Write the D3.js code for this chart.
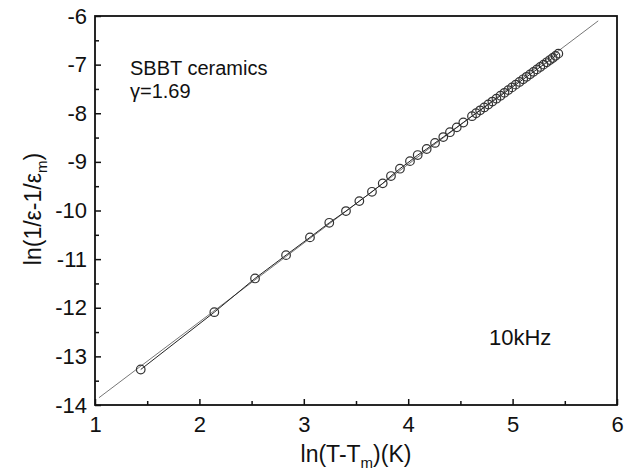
<!DOCTYPE html>
<html><head><meta charset="utf-8">
<script src="https://cdn.jsdelivr.net/npm/d3@7"></script>
<style>body{margin:0;background:#fff}svg{display:block}text{font-family:"Liberation Sans",Arial,sans-serif;fill:#111}</style>
</head><body><svg id="c" width="634" height="472"></svg>
<script>
const dataX = [1.438,2.143,2.533,2.830,3.059,3.244,3.404,3.532,3.653,3.756,3.835,3.921,4.017,4.091,4.177,4.257,4.336,4.400,4.465,4.528,
4.611,4.650,4.689,4.728,4.767,4.806,4.845,4.884,4.922,4.958,4.994,5.030,5.066,5.101,5.134,5.167,5.200,5.233,5.265,5.296,5.327,5.357,5.384,5.411,5.438];
const dataY = [-13.270,-12.091,-11.397,-10.918,-10.553,-10.253,-10.012,-9.807,-9.615,-9.442,-9.292,-9.140,-8.985,-8.860,-8.735,-8.610,-8.490,-8.390,-8.290,-8.190,
-8.060,-8.000,-7.940,-7.880,-7.820,-7.760,-7.700,-7.640,-7.580,-7.524,-7.468,-7.412,-7.356,-7.302,-7.251,-7.200,-7.149,-7.098,-7.048,-7.000,-6.952,-6.906,-6.864,-6.820,-6.774];
const fitX = [1.038, 5.82];
const fitY = [-13.85, -6.10];
const xTicks = [1,2,3,4,5,6];
const yTicks = [-14,-13,-12,-11,-10,-9,-8,-7,-6];

const svg = d3.select("#c");
const L=95, T=16, R=617, B=405;
const x = d3.scaleLinear().domain([1,6]).range([L,R]);
const y = d3.scaleLinear().domain([-14,-6]).range([B,T]);

svg.append("path").datum(fitX.map((v,i)=>[v,fitY[i]]))
  .attr("d", d3.line().x(d=>x(d[0])).y(d=>y(d[1])))
  .attr("stroke","#777").attr("stroke-width",1).attr("fill","none");
const pts = dataX.map((v,i)=>[v,dataY[i]]);
svg.append("path").datum(pts)
  .attr("d", d3.line().x(d=>x(d[0])).y(d=>y(d[1])))
  .attr("stroke","#222").attr("stroke-width",1).attr("fill","none");
svg.append("g").selectAll("circle").data(pts).join("circle")
  .attr("cx",d=>x(d[0])).attr("cy",d=>y(d[1])).attr("r",4.3)
  .attr("fill","none").attr("stroke","#333").attr("stroke-width",1.2);

const xa = svg.append("g").attr("transform",`translate(0,${B})`)
  .call(d3.axisBottom(x).tickValues(xTicks).tickFormat(d3.format("d")).tickSizeInner(-6).tickSizeOuter(0).tickPadding(11));
const xm = svg.append("g").attr("transform",`translate(0,${B})`)
  .call(d3.axisBottom(x).tickValues([1.5,2.5,3.5,4.5,5.5]).tickFormat("").tickSizeInner(-4).tickSizeOuter(0));
const ya = svg.append("g").attr("transform",`translate(${L},0)`)
  .call(d3.axisLeft(y).tickValues(yTicks).tickFormat(d=>d<0?"-"+Math.abs(d):d).tickSizeInner(-6).tickSizeOuter(0).tickPadding(8));
const ym = svg.append("g").attr("transform",`translate(${L},0)`)
  .call(d3.axisLeft(y).tickValues(d3.range(-13.5,-6,1)).tickFormat("").tickSizeInner(-4).tickSizeOuter(0));
[xa,xm,ya,ym].forEach(g=>{g.selectAll(".domain").remove();g.selectAll("line").attr("stroke","#111").attr("stroke-width",1.5);});
[xa,ya].forEach(g=>g.selectAll("text").attr("font-size",22).style("font-family","'Liberation Sans',Arial,sans-serif").attr("fill","#111"));
xa.selectAll("text").attr("dy","0.71em");

svg.append("rect").attr("x",L).attr("y",T).attr("width",R-L).attr("height",B-T)
  .attr("fill","none").attr("stroke","#111").attr("stroke-width",1.8);

svg.append("text").attr("x",130).attr("y",75).attr("font-size",20).text("SBBT ceramics");
svg.append("text").attr("x",130).attr("y",98).attr("font-size",20).text("γ=1.69");
svg.append("text").attr("x",489).attr("y",345).attr("font-size",22).text("10kHz");

const xt = svg.append("text").attr("x",356).attr("y",462).attr("text-anchor","middle").attr("font-size",23);
xt.append("tspan").text("ln(T-T");
xt.append("tspan").attr("font-size",15).attr("dy",6).text("m");
xt.append("tspan").attr("dy",-6).text(")(K)");
const yt = svg.append("text").attr("transform","translate(41,209) rotate(-90)").attr("text-anchor","middle").attr("font-size",23);
yt.append("tspan").text("ln(1/ε-1/ε");
yt.append("tspan").attr("font-size",15).attr("dy",6).text("m");
yt.append("tspan").attr("dy",-6).text(")");
</script></body></html>
